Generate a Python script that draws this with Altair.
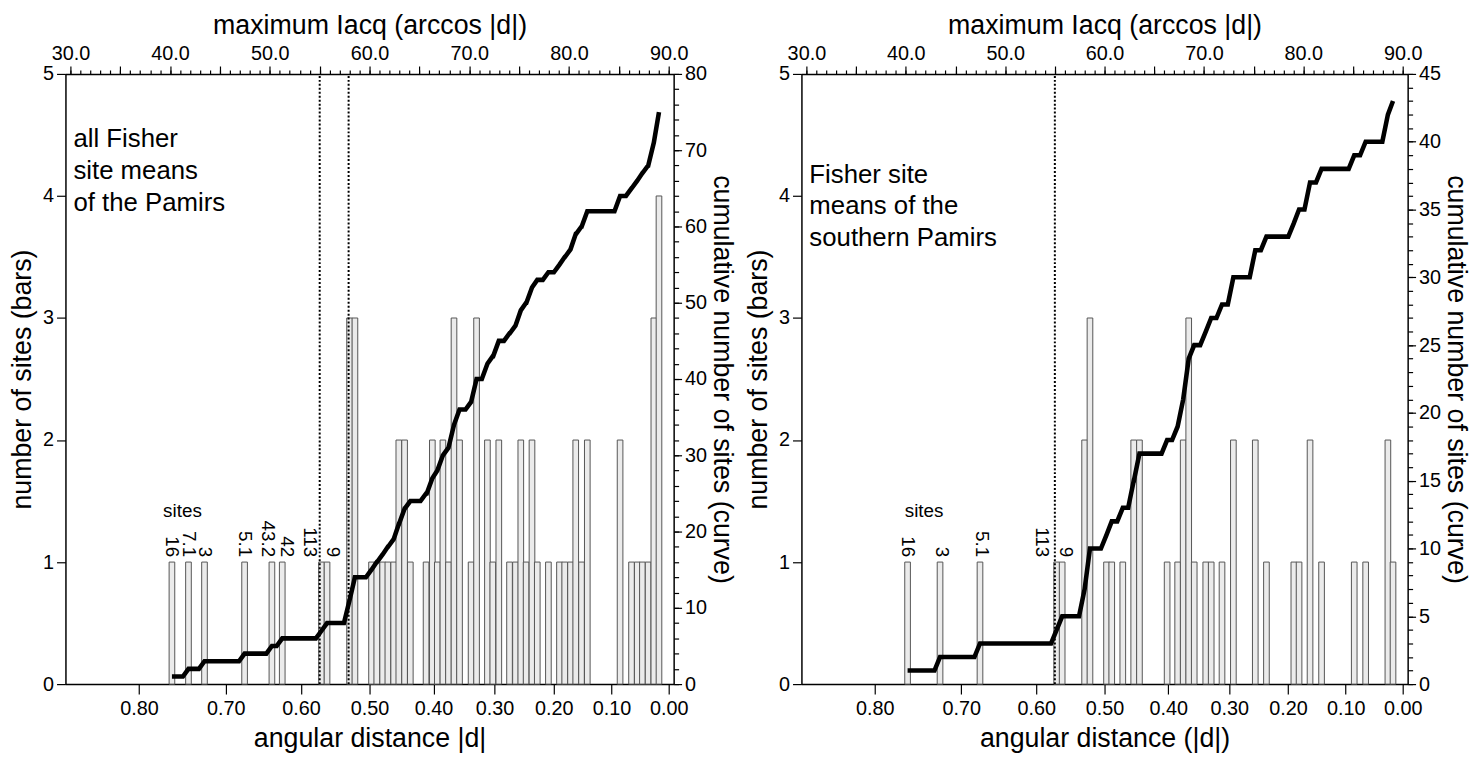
import math
import altair as alt
import pandas as pd

FONT = "Liberation Sans"

# ---------------- data ----------------
# left panel: all Fisher site means of the Pamirs  (|d| bar positions, site counts)
left_d = [0.764, 0.745, 0.726, 0.676, 0.640, 0.626, 0.571, 0.563, 0.530, 0.522,
          0.497, 0.489, 0.480, 0.472, 0.463, 0.455, 0.446, 0.437, 0.412, 0.402,
          0.394, 0.385, 0.376, 0.367, 0.358, 0.339, 0.330, 0.312, 0.303, 0.293,
          0.275, 0.265, 0.256, 0.247, 0.237, 0.228, 0.209, 0.190, 0.181, 0.171,
          0.162, 0.152, 0.142, 0.085, 0.065, 0.055, 0.046, 0.036, 0.026, 0.017]
left_n = [1, 1, 1, 1, 1, 1, 1, 1, 3, 3,
          1, 1, 1, 1, 1, 2, 2, 1, 1, 2,
          1, 2, 1, 3, 2, 1, 3, 2, 1, 2,
          1, 1, 2, 1, 2, 1, 1, 1, 1, 1,
          2, 1, 2, 2, 1, 1, 1, 1, 3, 4]

# right panel: Fisher site means of the southern Pamirs
right_d = [0.764, 0.726, 0.676, 0.571, 0.563, 0.530, 0.522, 0.497, 0.489, 0.472,
           0.455, 0.446, 0.402, 0.385, 0.376, 0.367, 0.358, 0.339, 0.330, 0.312,
           0.293, 0.256, 0.237, 0.190, 0.181, 0.162, 0.142, 0.085, 0.065, 0.026,
           0.017]
right_n = [1, 1, 1, 1, 1, 2, 3, 1, 1, 1,
           2, 2, 1, 1, 2, 3, 1, 1, 1, 1,
           2, 2, 1, 1, 1, 2, 1, 1, 1, 2,
           1]

# site labels above the first bars
left_site_names = ["16", "7.1", "3", "5.1", "43.2", "42", "113", "9"]
left_site_d = [0.764, 0.745, 0.725, 0.676, 0.645, 0.620, 0.588, 0.554]
right_site_names = ["16", "3", "5.1", "113", "9"]
right_site_d = [0.764, 0.724, 0.674, 0.592, 0.558]

# dotted cut-off lines (maximum I_acq, degrees)
left_cutoff_deg = [55.0, 57.9]
right_cutoff_deg = [55.0]

# axis tick values
bottom_tick_labels = [0.80, 0.70, 0.60, 0.50, 0.40, 0.30, 0.20, 0.10, 0.00]
top_major = list(range(30, 91, 5))
top_minor = list(range(30, 91, 1))
bar_ticks = [0, 1, 2, 3, 4, 5]
left_cum_major = list(range(0, 81, 10))
left_cum_minor = list(range(0, 81, 2))
right_cum_major = list(range(0, 46, 5))
right_cum_minor = list(range(0, 46, 1))

left_text = ["all Fisher", "site means", "of the Pamirs"]
right_text = ["Fisher site", "means of the", "southern Pamirs"]

BAR_MAX = 5


def theta(d):
    return math.degrees(math.acos(d))


def curve_table(d_list, n_list, k, step=0.56):
    rows = []
    cum = 0
    prev = None
    for j, (d, n) in enumerate(zip(d_list, n_list)):
        th = theta(d)
        if j > 0:
            rows.append((max(prev, th - step), cum))
        cum += n
        rows.append((th, cum))
        prev = th
    return pd.DataFrame({"theta": [r[0] for r in rows],
                         "cum": [r[1] * k for r in rows],
                         "i": list(range(len(rows)))})


def panel(d_list, n_list, names, name_d, cutoffs, cum_max, cum_major, cum_minor,
          width, height, text_lines, text_x, text_y, sites_d, bottom_title):
    k = BAR_MAX / cum_max  # cumulative count -> bar units (shared y scale)
    xs = alt.Scale(domain=[30, 90], nice=False, zero=False)
    ys = alt.Scale(domain=[0, BAR_MAX], nice=False, zero=True)
    noy = alt.Y("n:Q", scale=ys, axis=None)

    bars_df = pd.DataFrame({"theta": [theta(v) for v in d_list], "n": n_list})
    bars = alt.Chart(bars_df).mark_bar(
        orient="vertical", width=5.7, fill="#ebebeb", stroke="#555555", strokeWidth=1
    ).encode(
        x=alt.X("theta:Q", scale=xs, axis=alt.Axis(
            orient="bottom", values=[theta(v) for v in bottom_tick_labels],
            labelExpr="format(cos(datum.value*PI/180), '.2f')",
            title=bottom_title, tickSize=10, labelPadding=5, titlePadding=7)),
        y=alt.Y("n:Q", scale=ys, axis=alt.Axis(
            orient="left", values=bar_ticks, format="d",
            title="number of sites (bars)", tickSize=9, labelPadding=3, titlePadding=6)),
    )

    top_minor_layer = alt.Chart(bars_df).mark_bar(
        orient="vertical", width=1, opacity=0
    ).encode(
        x=alt.X("theta:Q", scale=xs, axis=alt.Axis(
            orient="top", values=top_minor, labels=False, domain=False,
            tickSize=4, title=None)),
        y=noy,
    )

    cut_df = pd.DataFrame({"deg": cutoffs, "y0": [0] * len(cutoffs),
                           "y1": [BAR_MAX] * len(cutoffs)})
    rules = alt.Chart(cut_df).mark_rule(
        color="black", strokeWidth=2, strokeDash=[2, 2]
    ).encode(
        x=alt.X("deg:Q", scale=xs, axis=alt.Axis(
            orient="top", values=top_major,
            labelExpr="datum.value % 10 == 0 ? format(datum.value, '.1f') : ''",
            title="maximum Iacq (arccos |d|)", tickSize=8, labelPadding=3, titlePadding=4)),
        y=alt.Y("y0:Q", scale=ys, axis=None),
        y2="y1:Q",
    )

    lab_df = pd.DataFrame({"name": names, "theta": [theta(v) for v in name_d],
                           "h": [1.04] * len(names)})
    labels = alt.Chart(lab_df).mark_text(
        angle=90, align="right", baseline="middle", fontSize=19, color="black"
    ).encode(
        x=alt.X("theta:Q", scale=xs, axis=None),
        y=alt.Y("h:Q", scale=ys, axis=None),
        text="name:N",
    )

    sites_df = pd.DataFrame({"theta": [theta(sites_d)], "h": [1.42], "t": ["sites"]})
    sites = alt.Chart(sites_df).mark_text(
        align="center", baseline="middle", fontSize=19, color="black"
    ).encode(
        x=alt.X("theta:Q", scale=xs, axis=None),
        y=alt.Y("h:Q", scale=ys, axis=None),
        text="t:N",
    )

    block_df = pd.DataFrame({"theta": [text_x], "h": [text_y],
                             "t": ["\n".join(text_lines)]})
    block = alt.Chart(block_df).mark_text(
        align="left", baseline="top", fontSize=26, lineHeight=32, color="black",
        lineBreak="\n"
    ).encode(
        x=alt.X("theta:Q", scale=xs, axis=None),
        y=alt.Y("h:Q", scale=ys, axis=None),
        text="t:N",
    )

    cdf = curve_table(d_list, n_list, k)
    curve = alt.Chart(cdf).mark_line(color="black", strokeWidth=4.6).encode(
        x=alt.X("theta:Q", scale=xs, axis=None),
        y=alt.Y("cum:Q", scale=ys, axis=alt.Axis(
            orient="right", values=[c * k for c in cum_major],
            labelExpr="format(round(datum.value*%r), 'd')" % (1.0 / k),
            title="cumulative number of sites (curve)",
            tickSize=8, labelPadding=3, titlePadding=1)),
        order="i:Q",
    )
    cum_minor_layer = alt.Chart(cdf).mark_line(opacity=0).encode(
        x=alt.X("theta:Q", scale=xs, axis=None),
        y=alt.Y("cum:Q", scale=ys, axis=alt.Axis(
            orient="right", values=[c * k for c in cum_minor], labels=False,
            domain=False, tickSize=5, title=None)),
        order="i:Q",
    )

    return alt.layer(
        bars, top_minor_layer, rules, labels, sites, block, curve, cum_minor_layer
    ).resolve_axis(x="independent", y="independent").properties(
        width=width, height=height)


left = panel(left_d, left_n, left_site_names, left_site_d, left_cutoff_deg,
             80, left_cum_major, left_cum_minor, 614, 616, left_text, 30.3, 4.57, 0.752,
             "angular distance |d|")
right = panel(right_d, right_n, right_site_names, right_site_d, right_cutoff_deg,
              45, right_cum_major, right_cum_minor, 612, 616, right_text, 30.3, 4.28, 0.745,
              "angular distance (|d|)")

chart = alt.hconcat(left, right, spacing=8).properties(
    padding={"left": 0, "top": 0, "right": 6, "bottom": 0}, background="white"
).configure_view(stroke=None).configure_axis(
    labelFont=FONT, titleFont=FONT, labelFontSize=20, titleFontSize=27,
    titleFontWeight="normal", labelColor="black", titleColor="black",
    domainColor="black", tickColor="black", domainWidth=1.5, tickWidth=1.2,
    grid=False, labelOverlap=False, labelFlush=False
).configure_text(font=FONT)

chart.save("out.html", embed_options={"renderer": "svg", "actions": False})
